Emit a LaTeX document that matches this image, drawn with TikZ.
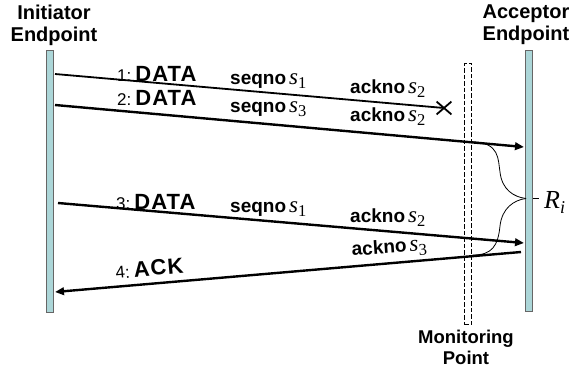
\documentclass[tikz,border=0pt]{standalone}
\usepackage{fontspec}
\setmainfont{Liberation Sans}
\newfontfamily\tmsfont{Liberation Serif}
\newfontfamily\dataffont{Liberation Sans}[LetterSpace=5]
\usetikzlibrary{arrows.meta,shapes.misc}
\newcommand{\svar}[1]{{\tmsfont\fontsize{23}{23}\selectfont\itshape s}\raisebox{-4.5pt}{\tmsfont\fontsize{16.5}{16.5}\selectfont #1}}
\newcommand{\numlbl}[1]{{\fontsize{17}{17}\selectfont #1}}
\newcommand{\biglbl}[1]{{\dataffont\bfseries\fontsize{22}{22}\selectfont #1}}
\newcommand{\smlbl}[1]{{\bfseries\fontsize{19}{19}\selectfont #1}}
\begin{document}
\begin{tikzpicture}[x=1pt,y=-1pt,
  bar/.style={draw=black!60, fill={rgb,255:red,172;green,214;blue,216}, line width=0.8pt, minimum width=7pt, inner sep=0pt, anchor=north west},
  msg/.style={line width=2.4pt, -{Triangle[length=9pt,width=7.5pt]}},
  lbl/.style={inner sep=0pt, anchor=base west},
  hdr/.style={font=\bfseries\fontsize{20}{22}\selectfont, align=center, inner sep=0pt, anchor=north}]
\useasboundingbox (0,0) rectangle (571,370);

% headers
\node[hdr] (hi) at (54,4.8) {Initiator\\Endpoint};
\node[hdr] (ha) at (526,4.8) {Acceptor\\Endpoint};
\node[hdr, font=\bfseries\fontsize{18.5}{20.5}\selectfont] (hm) at (466,330) {Monitoring\\Point};

% bars
\node[bar, minimum height=262pt] (L) at (46,50) {};
\node[bar, minimum height=261pt] (R) at (525,50) {};

% monitoring point
\node[draw, line width=1.4pt, dash pattern=on 4.5pt off 2pt, minimum width=7pt, minimum height=261pt, inner sep=0pt, anchor=north west] (mp) at (464,63) {};

% coordinates
\coordinate (a1) at (55,74);
\coordinate (a2) at (55,105);
\coordinate (e2) at (524,147);
\coordinate (a3) at (58,203);
\coordinate (e3) at (524,243);
\coordinate (a4) at (521,252);
\coordinate (e4) at (55,292);

% X
\node[draw, cross out, line width=1.8pt, minimum width=13pt, minimum height=11pt, inner sep=0pt] (X) at (444,108) {};

% messages
\draw[line width=1.8pt] (a1) -- (X.center);
\draw[msg] (a2) -- (e2);
\draw[msg] (a3) -- (e3);
\draw[msg] (a4) -- (e4);

% labels line 1
\node[lbl] (l1a) at (117,81.5) {\numlbl{1:}\hspace{4pt}\biglbl{DATA}};
\node[lbl] (l1b) at (230,84) {\smlbl{seqno}\hspace{3pt}\svar{1}};
\node[lbl] (l1c) at (350,93) {\smlbl{ackno}\hspace{3pt}\svar{2}};
% labels line 2
\node[lbl] (l2a) at (117,105) {\numlbl{2:}\hspace{4pt}\biglbl{DATA}};
\node[lbl] (l2b) at (230,112) {\smlbl{seqno}\hspace{3pt}\svar{3}};
\node[lbl] (l2c) at (350,121) {\smlbl{ackno}\hspace{3pt}\svar{2}};
% labels line 3
\node[lbl] (l3a) at (116,209.5) {\numlbl{3:}\hspace{4pt}\biglbl{DATA}};
\node[lbl] (l3b) at (230,212) {\smlbl{seqno}\hspace{3pt}\svar{1}};
\node[lbl] (l3c) at (350,222) {\smlbl{ackno}\hspace{3pt}\svar{2}};
% labels line 4
\node[lbl, rotate=4] (l4c) at (352,256) {\smlbl{ackno}\hspace{3pt}\svar{3}};
\node[lbl, rotate=5] (l4a) at (116,279) {\numlbl{4:}\hspace{4pt}\biglbl{ACK}};

% brace
\coordinate (b1) at (472,142);
\coordinate (bt) at (526,198.5);
\coordinate (b2) at (473,255);
\draw[line width=0.8pt] (b1) .. controls (500,142) and (498,160) .. (500,172)
  .. controls (502,190) and (514,197) .. (bt);
\draw[line width=0.8pt] (bt) .. controls (514,200) and (502,208) .. (500,226)
  .. controls (498,246) and (492,255) .. (b2);
\coordinate (t1) at (533,198.5);
\coordinate (t2) at (539,198.5);
\draw[line width=1pt] (t1) -- (t2);
\node[lbl] (ri) at (544,208) {{\tmsfont\itshape\fontsize{26}{26}\selectfont R}\raisebox{-5pt}{\tmsfont\itshape\fontsize{18}{18}\selectfont i}};
\end{tikzpicture}
\end{document}
